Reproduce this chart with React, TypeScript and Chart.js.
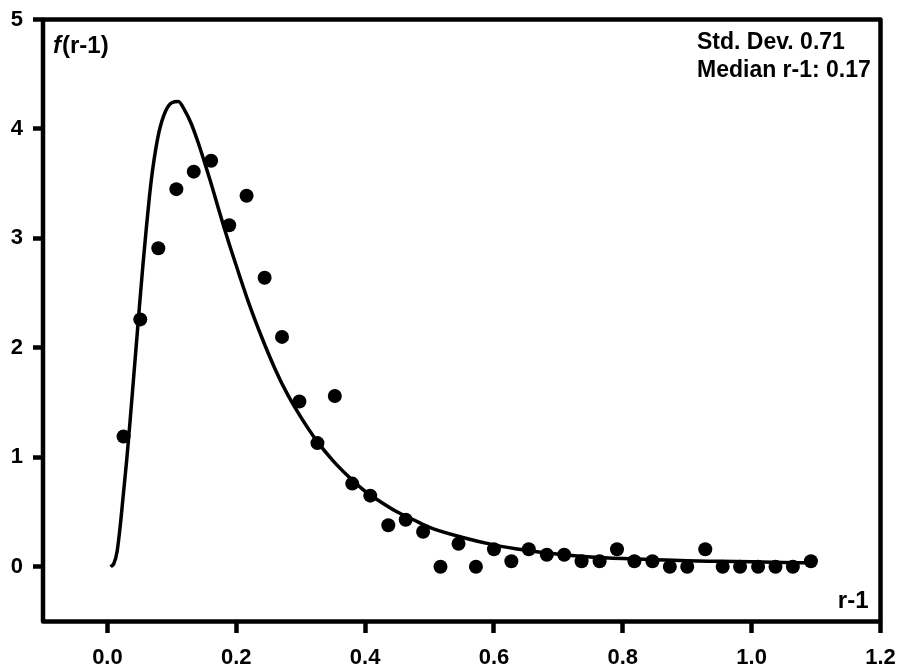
import { useEffect, useRef } from "react";
import { Chart, registerables } from "chart.js";

Chart.register(...registerables);

// Measured distribution: r-1 bins and frequency f(r-1)
const pointX = [
  0.025, 0.051, 0.079, 0.107, 0.134, 0.161, 0.189, 0.216, 0.244, 0.271,
  0.298, 0.326, 0.353, 0.38, 0.408, 0.436, 0.463, 0.49, 0.517, 0.545,
  0.572, 0.6, 0.627, 0.654, 0.682, 0.709, 0.736, 0.764, 0.791, 0.818,
  0.846, 0.873, 0.9, 0.928, 0.955, 0.982, 1.01, 1.037, 1.064, 1.092,
];
const pointY = [
  1.19, 2.26, 2.91, 3.45, 3.61, 3.71, 3.12, 3.39, 2.64, 2.1,
  1.51, 1.13, 1.56, 0.76, 0.65, 0.38, 0.43, 0.32, 0.0, 0.21,
  0.0, 0.16, 0.05, 0.16, 0.11, 0.11, 0.05, 0.05, 0.16, 0.05,
  0.05, 0.0, 0.0, 0.16, 0.0, 0.0, 0.0, 0.0, 0.0, 0.05,
];

// Fitted curve
const curveX = [
  0.005, 0.01, 0.015, 0.02, 0.025, 0.03, 0.035, 0.04, 0.045, 0.05,
  0.055, 0.06, 0.065, 0.07, 0.08, 0.09, 0.1, 0.11, 0.12, 0.13,
  0.14, 0.15, 0.16, 0.17, 0.18, 0.19, 0.2, 0.22, 0.24, 0.26,
  0.28, 0.3, 0.325, 0.35, 0.375, 0.4, 0.425, 0.45, 0.475, 0.5,
  0.55, 0.6, 0.65, 0.7, 0.75, 0.8, 0.85, 0.9, 0.95, 1.0,
  1.05, 1.1,
];
const curveY = [
  0.0, 0.03, 0.14, 0.38, 0.68, 0.98, 1.32, 1.68, 2.04, 2.4,
  2.75, 3.07, 3.37, 3.62, 3.97, 4.16, 4.24, 4.25, 4.17, 4.05,
  3.89, 3.71, 3.52, 3.32, 3.12, 2.93, 2.75, 2.4, 2.09, 1.81,
  1.57, 1.37, 1.15, 0.97, 0.82, 0.69, 0.59, 0.5, 0.43, 0.36,
  0.27, 0.2, 0.15, 0.115, 0.09, 0.075, 0.065, 0.055, 0.05, 0.045,
  0.04, 0.035,
];

const xTickValues = [0, 0.2, 0.4, 0.6, 0.8, 1.0, 1.2];
const yTickValues = [0, 1, 2, 3, 4, 5];
const statLines = ["Std. Dev. 0.71", "Median r-1: 0.17"];
const yTitleItalic = "f";
const yTitleRest = "(r-1)";
const xTitle = "r-1";

const FONT = '"Liberation Sans", Arial, Helvetica, sans-serif';

const framePlugin = {
  id: "frameAndLabels",
  afterDraw(chart: any) {
    const { ctx, chartArea: a } = chart;
    ctx.save();
    // box around the plot
    ctx.lineWidth = 4.5;
    ctx.strokeStyle = "#000";
    ctx.lineJoin = "round";
    ctx.strokeRect(a.left, a.top, a.right - a.left, a.bottom - a.top);

    ctx.fillStyle = "#000";
    ctx.textBaseline = "alphabetic";
    ctx.textAlign = "left";

    // y title: f(r-1)
    ctx.font = `italic bold 24px ${FONT}`;
    const fx = a.left + 10;
    const fy = a.top + 33.5;
    ctx.fillText(yTitleItalic, fx, fy);
    const fw = ctx.measureText(yTitleItalic).width;
    ctx.font = `bold 24px ${FONT}`;
    ctx.fillText(yTitleRest, fx + fw + 1, fy);

    // x title: r-1
    ctx.textAlign = "right";
    ctx.fillText(xTitle, a.right - 12, a.bottom - 14);

    // statistics
    ctx.textAlign = "left";
    ctx.font = `bold 23px ${FONT}`;
    statLines.forEach((line, i) => {
      ctx.fillText(line, a.right - 183.5, a.top + 29.5 + i * 27.5);
    });
    ctx.restore();
  },
};

export default function App() {
  const canvasRef = useRef<HTMLCanvasElement | null>(null);

  useEffect(() => {
    const canvas = canvasRef.current;
    if (!canvas) return;

    const chart = new Chart(canvas, {
      type: "scatter",
      data: {
        datasets: [
          {
            label: "data",
            data: pointX.map((x, i) => ({ x, y: pointY[i] })),
            backgroundColor: "#000",
            borderColor: "#000",
            pointRadius: 7,
            pointBorderWidth: 0,
            showLine: false,
          },
          {
            label: "fit",
            data: curveX.map((x, i) => ({ x, y: curveY[i] })),
            borderColor: "#000",
            backgroundColor: "#000",
            borderWidth: 3.5,
            pointRadius: 0,
            showLine: true,
            cubicInterpolationMode: "monotone",
          },
        ],
      },
      options: {
        responsive: false,
        animation: false,
        devicePixelRatio: 1,
        layout: { padding: { top: 19.5, right: 19.5, left: 0, bottom: 0 } },
        plugins: {
          legend: { display: false },
          tooltip: { enabled: false },
          title: { display: false },
        },
        scales: {
          x: {
            type: "linear",
            min: -0.1,
            max: 1.2,
            afterBuildTicks: (scale: any) => {
              scale.ticks = xTickValues.map((value) => ({ value }));
            },
            afterFit: (scale: any) => {
              scale.height = 46.5;
              scale.paddingLeft = 0;
              scale.paddingRight = 0;
            },
            border: { display: false },
            grid: {
              drawOnChartArea: false,
              drawTicks: true,
              tickLength: 11.5,
              tickWidth: 4.5,
              tickColor: "#000",
            },
            ticks: {
              color: "#000",
              padding: 12,
              maxRotation: 0,
              font: { family: FONT, size: 22, weight: "bold" },
              callback: (v: any) => Number(v).toFixed(1),
            },
          },
          y: {
            type: "linear",
            min: -0.5,
            max: 5,
            afterBuildTicks: (scale: any) => {
              scale.ticks = yTickValues.map((value) => ({ value }));
            },
            afterFit: (scale: any) => {
              scale.width = 43;
              scale.paddingTop = 0;
              scale.paddingBottom = 0;
            },
            border: { display: false },
            grid: {
              drawOnChartArea: false,
              drawTicks: true,
              tickLength: 10,
              tickWidth: 4.5,
              tickColor: "#000",
            },
            ticks: {
              color: "#000",
              padding: 10,
              font: { family: FONT, size: 22, weight: "bold" },
              callback: (v: any) => String(v),
            },
          },
        },
      },
      plugins: [framePlugin],
    } as any);

    return () => chart.destroy();
  }, []);

  return (
    <div
      style={{
        position: "absolute",
        left: 0,
        top: 0,
        width: 900,
        height: 668,
        background: "#fff",
      }}
    >
      <canvas ref={canvasRef} width={900} height={668} style={{ display: "block" }} />
    </div>
  );
}
